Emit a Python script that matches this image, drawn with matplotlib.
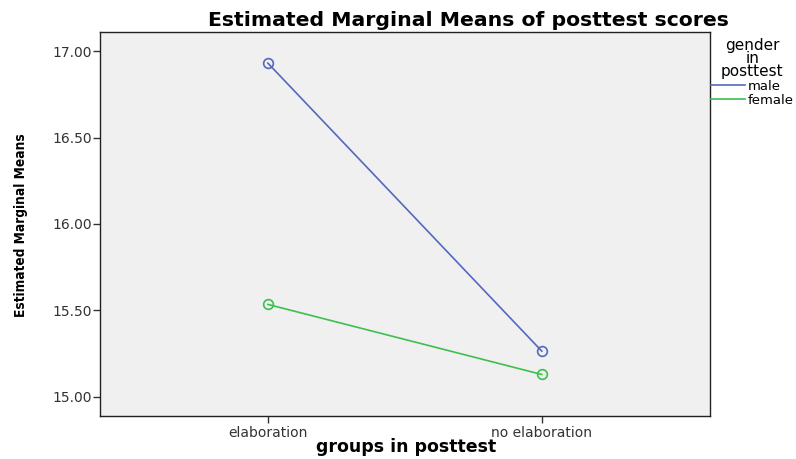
import numpy as np
import matplotlib.pyplot as plt

# data
groups = ["elaboration", "no elaboration"]
male = [16.93, 15.265]
female = [15.535, 15.13]
series_names = ["male", "female"]
series_colors = ["#5468c0", "#3cc04e"]
yticks = [15.0, 15.5, 16.0, 16.5, 17.0]

fig = plt.figure(figsize=(7.96, 4.59), dpi=100)
ax = fig.add_axes([0.1256, 0.0937, 0.766, 0.8366])
ax.set_facecolor("#f0f0f0")

x = np.arange(len(groups))
for vals, name, col in zip([male, female], series_names, series_colors):
    ax.plot(x, vals, "-", color=col, lw=1.2, label=name)
    ax.plot(x, vals, "o", ms=7, mfc="none", mec=col, mew=1.2)

ax.set_xlim(-0.613, 1.613)
ax.set_ylim(14.89, 17.11)
ax.set_xticks(x)
ax.set_xticklabels(groups)
ax.set_yticks(yticks)
ax.set_yticklabels(["%.2f" % v for v in yticks])
ax.tick_params(labelsize=10, colors="#333333", length=5, width=1)
ax.tick_params(axis="x", pad=2)
ax.tick_params(axis="y", pad=1)
for s in ax.spines.values():
    s.set_color("#222222")
    s.set_linewidth(1.0)

fig.text(0.588, 0.956, "Estimated Marginal Means of posttest scores",
         ha="center", va="center", fontsize=14.7, fontweight="bold")
fig.text(0.5105, 1 - 447 / 459, "groups in posttest", ha="center", va="center",
         fontsize=12.5, fontweight="bold")
fig.text(0.026, 1 - 225 / 459, "Estimated Marginal Means", rotation=90, ha="center", va="center",
         fontsize=9.8, fontweight="bold", family="DejaVu Sans", fontstretch="condensed")

leg = ax.legend(title="gender\nin\nposttest", loc="upper left",
                bbox_to_anchor=(711 / 796, 1 - 38 / 459), bbox_transform=fig.transFigure,
                frameon=False, fontsize=9.5, handlelength=2.6, handletextpad=0.15,
                borderaxespad=0, borderpad=0, labelspacing=0.05)
leg.get_title().set_fontsize(11)
leg.get_title().set_multialignment("center")
leg.get_title().set_linespacing(0.85)

fig.savefig("out.png", dpi=100)
